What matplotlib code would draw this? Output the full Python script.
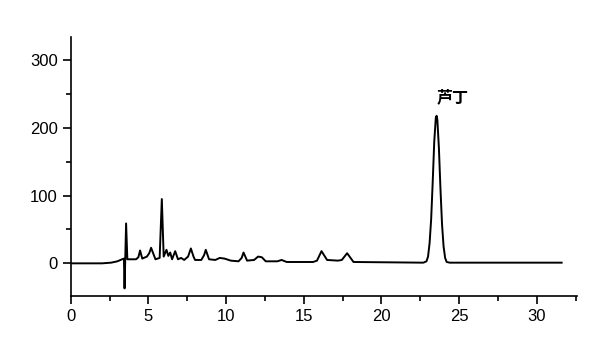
import numpy as np
import matplotlib
matplotlib.use('Agg')
import matplotlib.pyplot as plt
from matplotlib.ticker import MultipleLocator

# retention time (min) and detector signal
time = [0.0, 2.0, 2.6, 3.0, 3.3, 3.42, 3.46, 3.56, 3.64, 4.2, 4.35, 4.46,
        4.6, 4.9, 5.05, 5.17, 5.3, 5.45, 5.72, 5.86, 5.98, 6.16, 6.28,
        6.4, 6.52, 6.62, 6.72, 6.9, 7.1, 7.3, 7.55, 7.73, 7.9, 8.0, 8.4,
        8.58, 8.69, 8.9, 9.3, 9.59, 9.9, 10.3, 10.8, 11.0, 11.12, 11.35,
        11.8, 12.06, 12.3, 12.55, 13.3, 13.57, 13.9, 15.6, 15.85, 16.14,
        16.5, 17.2, 17.45, 17.79, 18.2, 22.7, 22.9, 23.0, 23.1, 23.2, 23.3,
        23.4, 23.5, 23.55, 23.6, 23.7, 23.8, 23.9, 24.0, 24.1, 24.2, 24.4,
        31.6]
signal = [0, 0, 1, 3, 6, 7, -37, 59, 6, 6, 9, 19,
          7, 10, 15, 23, 15, 6, 8, 95, 10, 20, 11,
          16, 6, 12, 18, 6, 8, 5, 10, 22, 10, 5, 5,
          12, 20, 6, 5, 8, 7, 4, 3, 8, 16, 4,
          5, 10, 9, 3, 3, 5, 2, 2, 4, 18,
          5, 4, 5, 15, 2, 1, 3, 10, 30, 65, 120,
          180, 215, 218, 212, 170, 110, 58, 25, 8, 2, 1,
          1]

peak_label = '芦丁'
peak_label_pos = (24.6, 246)

plt.rcParams['font.family'] = ['Liberation Sans', 'DejaVu Sans']

fig = plt.figure(figsize=(5.95, 3.42), dpi=100)
ax = fig.add_axes([0.119, 0.135, 0.851, 0.756])

ax.plot(time, signal, color='black', linewidth=1.4)

ax.text(peak_label_pos[0], peak_label_pos[1], peak_label,
        family=['Noto Sans CJK SC', 'DejaVu Sans'], fontsize=11.5,
        fontweight='bold', ha='center', va='center')

ax.set_xlim(0, 32.6)
ax.set_ylim(-48, 334)
ax.xaxis.set_major_locator(MultipleLocator(5))
ax.xaxis.set_minor_locator(MultipleLocator(2.5))
ax.yaxis.set_major_locator(MultipleLocator(100))
ax.yaxis.set_minor_locator(MultipleLocator(50))

for side in ['top', 'right']:
    ax.spines[side].set_visible(False)
for side in ['left', 'bottom']:
    ax.spines[side].set_linewidth(1.2)

ax.tick_params(which='major', direction='out', length=6, width=1.2,
               labelsize=12)
ax.tick_params(which='minor', direction='out', length=3.5, width=1.2)

fig.savefig('out.png', dpi=100)
